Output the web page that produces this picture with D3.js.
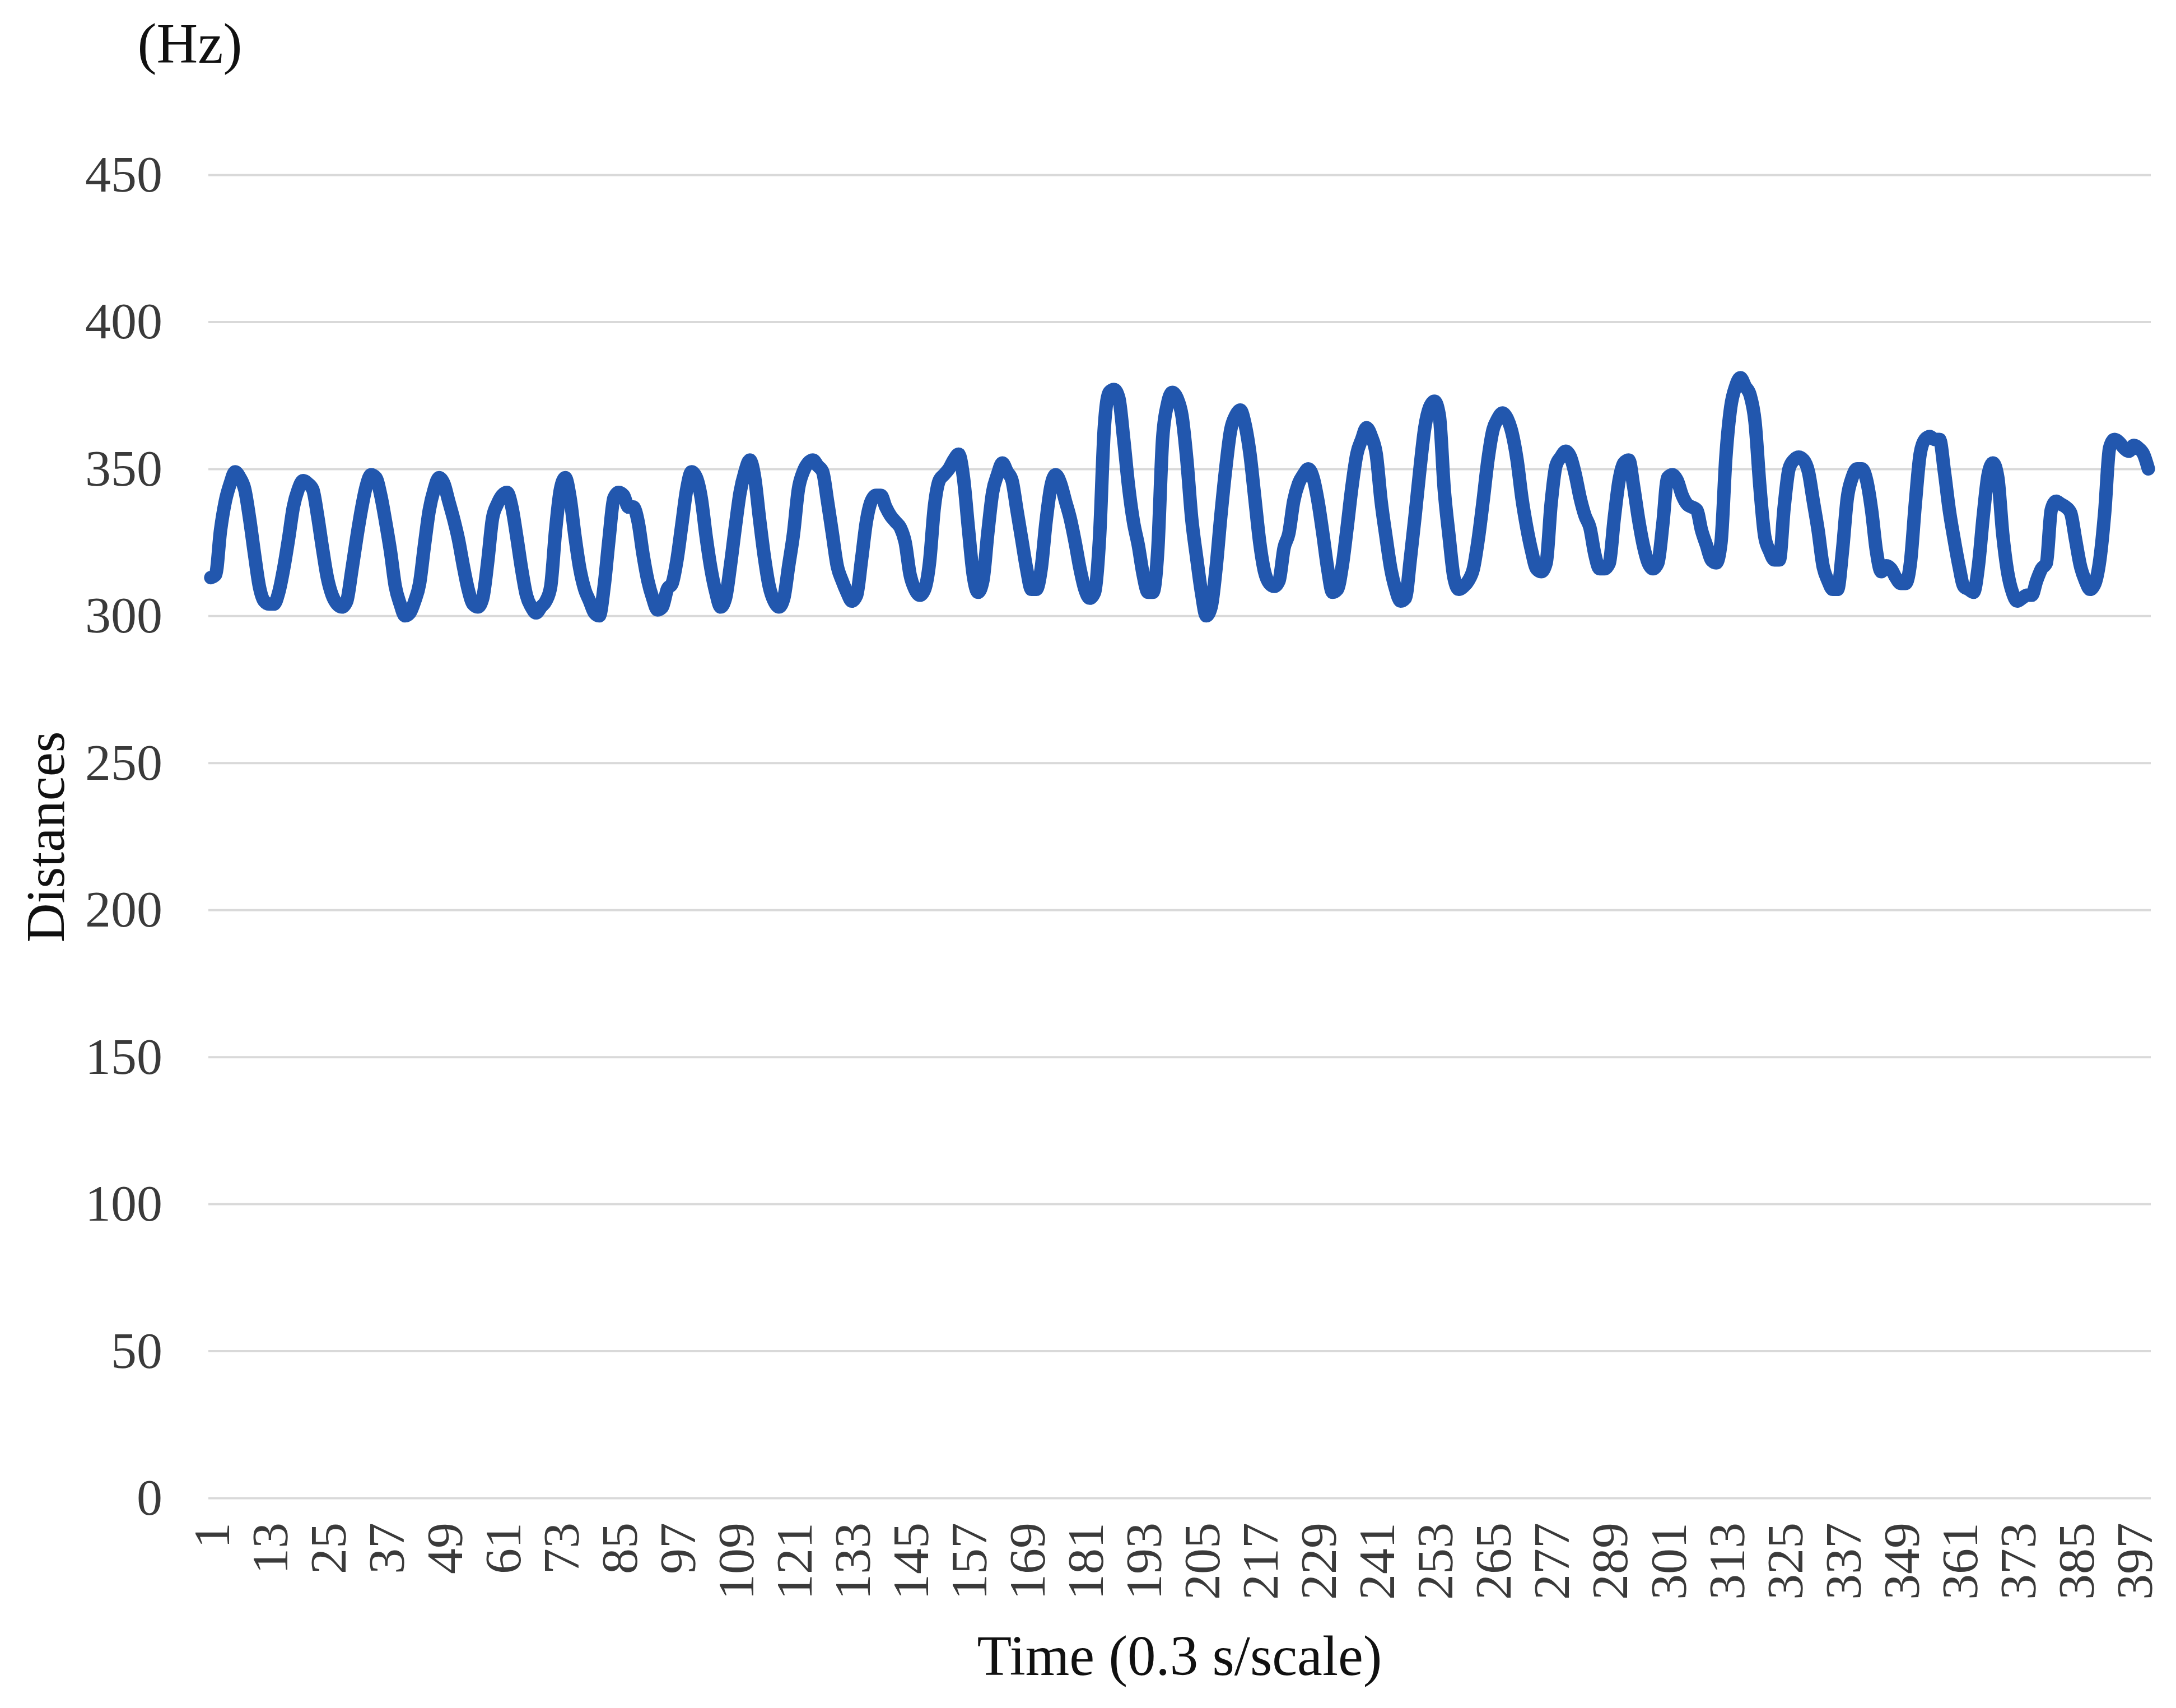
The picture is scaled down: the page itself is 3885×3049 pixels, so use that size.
<!DOCTYPE html>
<html>
<head>
<meta charset="utf-8">
<script src="https://cdn.jsdelivr.net/npm/d3@7"></script>
<style>
  html, body { margin: 0; padding: 0; background: #ffffff; }
  svg { display: block; }
</style>
</head>
<body>
<svg id="chart" width="3885" height="3049"></svg>
<script>
// ---------------- data ----------------
const yTicks = [0, 50, 100, 150, 200, 250, 300, 350, 400, 450];
const xTickLabels = [1, 13, 25, 37, 49, 61, 73, 85, 97, 109, 121, 133, 145, 157, 169, 181, 193, 205, 217, 229, 241, 253, 265, 277, 289, 301, 313, 325, 337, 349, 361, 373, 385, 397];
const values = [
  313, 314, 329, 339, 345, 349, 347, 343, 333, 321,
  310, 305, 304, 304, 308, 316, 326, 337, 343, 346,
  345, 343, 334, 323, 313, 307, 304, 303, 305, 315,
  326, 336, 344, 348, 347, 341, 332, 322, 310, 304,
  300, 301, 305, 311, 324, 336, 343, 347, 345, 339,
  333, 326, 317, 309, 304, 303, 306, 318, 333, 338,
  341, 342, 337, 327, 316, 307, 303, 301, 303, 305,
  310, 329, 343, 347, 340, 327, 316, 309, 305, 301,
  300, 310, 326, 340, 342, 341, 337, 337, 332, 321,
  312, 306, 302, 303, 309, 311, 319, 331, 343, 349,
  347, 340, 327, 316, 308, 303, 306, 317, 330, 342,
  349, 353, 347, 333, 320, 310, 305, 303, 306, 317,
  328, 343, 349, 352, 353, 351, 349, 339, 328, 317,
  312, 308, 305, 307, 319, 332, 339, 341, 341, 337,
  334, 332, 330, 325, 314, 309, 307, 309, 318, 337,
  346, 348, 350, 353, 355, 347, 330, 314, 308, 312,
  328, 342, 348, 352, 349, 346, 336, 326, 316, 309,
  309, 316, 332, 344, 348, 345, 339, 333, 325, 316,
  309, 306, 308, 326, 364, 376, 377, 374, 360, 344,
  332, 324, 314, 308, 308, 322, 360, 372, 376, 374,
  368, 353, 333, 320, 308, 300, 303, 316, 334, 350,
  363, 368, 370, 365, 355, 340, 325, 315, 311, 310,
  312, 323, 328, 339, 345, 348, 350, 347, 339, 328,
  316, 308, 309, 317, 330, 344, 355, 360, 364, 361,
  355, 339, 327, 316, 309, 305, 306, 319, 334, 350,
  364, 371, 373, 368, 343, 327, 313, 309, 310, 312,
  316, 326, 339, 353, 363, 367, 369, 367, 362, 353,
  340, 330, 322, 316, 315, 318, 338, 351, 354, 356,
  354, 348, 340, 334, 330, 321, 316, 316, 318, 333,
  346, 352, 353, 344, 333, 324, 318, 316, 318, 331,
  347, 348, 346, 341, 338, 337, 336, 329, 324, 319,
  318, 325, 354, 371, 378, 381, 378, 375, 366, 344,
  327, 322, 319, 319, 337, 350, 353, 354, 353, 349,
  339, 329, 317, 312, 309, 309, 322, 340, 347, 350,
  350, 346, 336, 322, 315, 317, 316, 313, 311, 311,
  318, 338, 355, 360, 361, 360, 360, 349, 336, 326,
  317, 310, 309, 308, 317, 334, 348, 352, 347, 328,
  315, 308, 305, 306, 307, 307, 312, 316, 318, 336,
  339, 338, 337, 335, 326, 317, 312, 309, 311, 319,
  335, 357, 360, 359, 357, 356, 358, 357, 355, 350
];
const categories = values.map((_, i) => i + 1);
const yTitle = "Distances";
const xTitle = "Time (0.3 s/scale)";
const unitLabel = "(Hz)";

// ---------------- layout ----------------
const svg = d3.select("#chart");
const plot = { left: 372, right: 3840, top: 312, bottom: 2674 };
const serif = "'Liberation Serif', 'Times New Roman', Times, serif";

const x = d3.scaleBand()
  .domain(categories)
  .range([plot.left, plot.right])
  .padding(0);

const y = d3.scaleLinear()
  .domain([0, 450])
  .range([plot.bottom, plot.top]);

// gridlines + y tick labels
const yAxis = d3.axisLeft(y)
  .tickValues(yTicks)
  .tickSize(-(plot.right - plot.left))
  .tickPadding(82);

const gy = svg.append("g")
  .attr("transform", `translate(${plot.left},0)`)
  .call(yAxis);
gy.select(".domain").remove();
gy.selectAll(".tick line")
  .attr("stroke", "#d9d9d9")
  .attr("stroke-width", 4);
gy.selectAll(".tick text")
  .attr("font-family", serif)
  .attr("font-size", 92)
  .attr("fill", "#3a3a3a");

// x tick labels
const xAxis = d3.axisBottom(x)
  .tickValues(xTickLabels)
  .tickSize(0)
  .tickPadding(0);

const gx = svg.append("g")
  .attr("transform", `translate(0,${plot.bottom})`)
  .call(xAxis);
gx.select(".domain").remove();
gx.selectAll(".tick text")
  .attr("font-family", serif)
  .attr("font-size", 92)
  .attr("fill", "#3a3a3a")
  .attr("text-anchor", "end")
  .attr("transform", "translate(0,44) rotate(-90)")
  .attr("x", 0)
  .attr("y", 0)
  .attr("dy", "0.35em");

// line
const line = d3.line()
  .x((d, i) => x(categories[i]) + x.bandwidth() / 2)
  .y(d => y(d))
  .curve(d3.curveMonotoneX);

svg.append("path")
  .datum(values)
  .attr("fill", "none")
  .attr("stroke", "#2257ae")
  .attr("stroke-width", 24)
  .attr("stroke-linejoin", "round")
  .attr("stroke-linecap", "round")
  .attr("d", line);

// titles
svg.append("text")
  .attr("x", 339)
  .attr("y", 112)
  .attr("text-anchor", "middle")
  .attr("font-family", serif)
  .attr("font-size", 102)
  .attr("fill", "#111")
  .text(unitLabel);

svg.append("text")
  .attr("transform", "translate(114,1494) rotate(-90)")
  .attr("text-anchor", "middle")
  .attr("font-family", serif)
  .attr("font-size", 97)
  .attr("fill", "#111")
  .text(yTitle);

svg.append("text")
  .attr("x", 2106)
  .attr("y", 2990)
  .attr("text-anchor", "middle")
  .attr("font-family", serif)
  .attr("font-size", 101)
  .attr("fill", "#111")
  .text(xTitle);
</script>
</body>
</html>
